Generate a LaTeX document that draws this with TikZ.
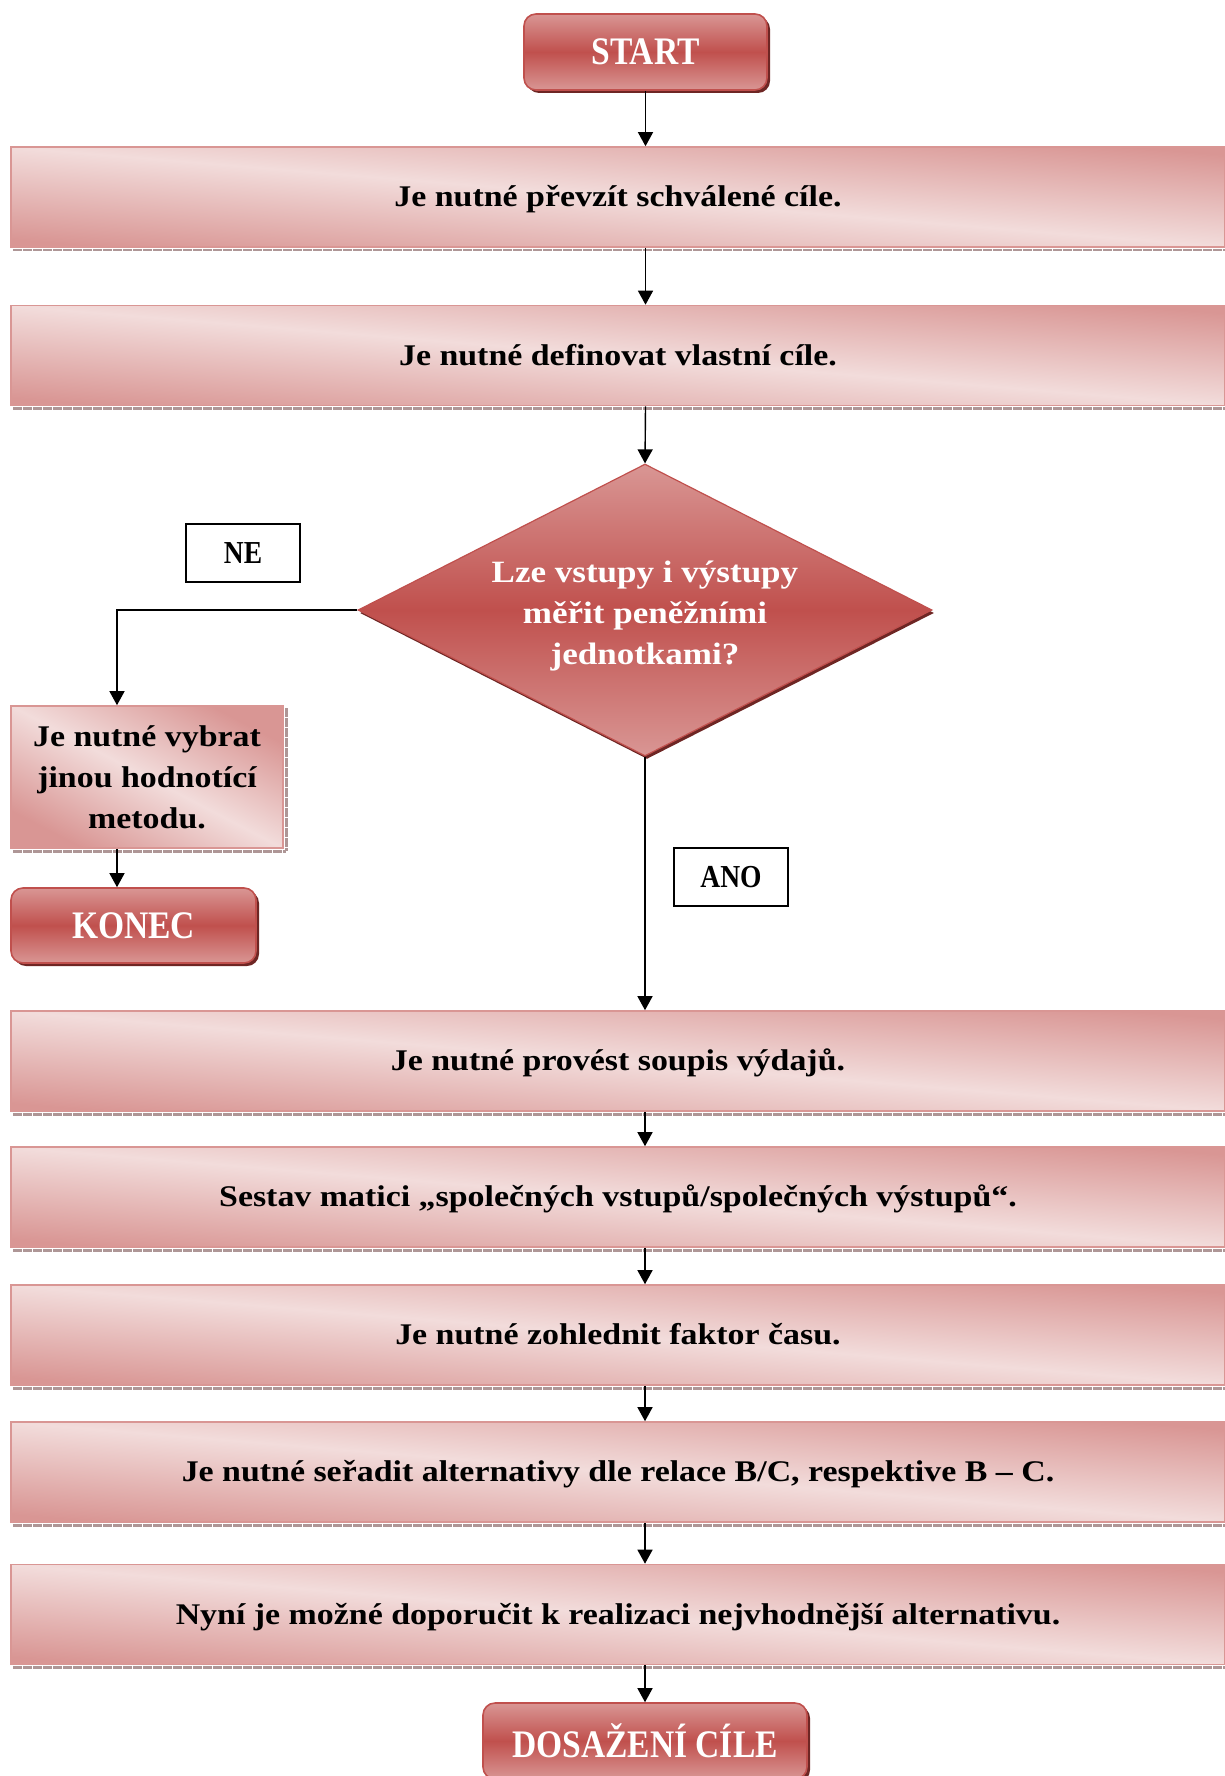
\documentclass[tikz,border=0pt]{standalone}
\usepackage{fontspec}
\setmainfont{Liberation Serif}[FakeStretch=1.13]
\newfontfamily\capsfont{Liberation Serif}[FakeStretch=0.86]
\usetikzlibrary{shapes.geometric,arrows.meta,shadows}
\definecolor{pinklight}{HTML}{F2DCDB}
\definecolor{pinkdark}{HTML}{D99694}
\definecolor{accentred}{HTML}{C0504D}
\definecolor{shadowred}{HTML}{6E2624}
\definecolor{stripgray}{HTML}{AE9696}
\begin{document}
\begin{tikzpicture}[x=0.5pt,y=-0.5pt,
  gradbox/.style={rectangle, draw=pinkdark, line width=0.8pt,
    left color=pinkdark, right color=pinkdark, middle color=pinklight,
    inner sep=0pt, align=center,
    font=\bfseries\fontsize{15}{20.5}\selectfont},
  stepbar/.style={gradbox, shading angle=-4.7,
    minimum width=607pt, minimum height=50pt,
    text height=13pt, text depth=3.3pt},
  sidebox/.style={gradbox, shading angle=-27.6,
    minimum width=136pt, minimum height=71pt},
  termbox/.style={rectangle, rounded corners=6pt, draw=accentred,
    line width=0.8pt, top color=pinkdark, bottom color=pinkdark,
    middle color=accentred, text=white, inner sep=0pt,
    font=\capsfont\bfseries\fontsize{19.5}{22}\selectfont,
    drop shadow={shadow xshift=1.5pt, shadow yshift=-1.5pt,
      fill=shadowred, opacity=1}},
  decision/.style={diamond, aspect=1.97, draw=accentred, line width=0.6pt,
    top color=pinkdark, bottom color=pinkdark, middle color=accentred,
    text=white, minimum width=287pt, minimum height=146pt, inner sep=0pt,
    align=center, font=\bfseries\fontsize{15.5}{20.5}\selectfont,
    drop shadow={shadow xshift=1pt, shadow yshift=-1.5pt,
      fill=shadowred, opacity=1}},
  answer/.style={rectangle, draw=black, line width=0.9pt, fill=white,
    minimum width=57pt, minimum height=29pt, inner sep=0pt,
    font=\capsfont\bfseries\fontsize{16}{18}\selectfont},
  arrowline/.style={line width=0.7pt, -{Triangle[width=7.5pt,length=7pt]}},
  shadowstrip/.style={draw=stripgray, line width=1.3pt,
    dash pattern=on 4.4pt off 0.6pt}
]
\useasboundingbox (0,0) rectangle (1225,1776);
\clip (0,0) rectangle (1225,1776);

% terminals
\node[termbox, minimum width=121.5pt, minimum height=38pt] (start) at (645.5,52) {START};
\node[termbox, minimum width=122.5pt, minimum height=37.5pt] (konec) at (133.5,925.5) {KONEC};
\node[termbox, minimum width=162pt, minimum height=38pt] (cil) at (645,1741) {DOSAŽENÍ CÍLE};

% process steps
\node[stepbar] (b1) at (618,197) {Je nutné převzít schválené cíle.};
\node[stepbar] (b2) at (618,355.5) {Je nutné definovat vlastní cíle.};
\node[stepbar] (b3) at (618,1061) {Je nutné provést soupis výdajů.};
\node[stepbar] (b4) at (618,1197) {Sestav matici „společných vstupů/společných výstupů“.};
\node[stepbar] (b5) at (618,1335) {Je nutné zohlednit faktor času.};
\node[stepbar] (b6) at (618,1472) {Je nutné seřadit alternativy dle relace B/C, respektive B – C.};
\node[stepbar] (b7) at (618,1614.5) {Nyní je možné doporučit k realizaci nejvhodnější alternativu.};
\node[sidebox] (alt) at (147,777) {Je nutné vybrat\\jinou hodnotící\\metodu.};

\foreach \n in {b1,b2,b3,b4,b5,b6,b7,alt}
  \draw[shadowstrip] ([xshift=1.5pt,yshift=-1.2pt]\n.south west) -- ([xshift=1.2pt,yshift=-1.2pt]\n.south east);
\draw[shadowstrip] ([xshift=1.2pt,yshift=-1.5pt]alt.north east) -- ([xshift=1.2pt,yshift=-1.2pt]alt.south east);

% decision
\node[decision] (dec) at (645,610)
  {\raisebox{-2.8pt}[\height][\depth]{\begin{tabular}{@{}c@{}}Lze vstupy i výstupy\\měřit peněžními\\jednotkami?\end{tabular}}};

% branch labels
\node[answer] (ne) at (243,553) {NE};
\node[answer] (ano) at (731,877) {ANO};

% connectors
\draw[arrowline] (start.south) -- (start.south |- b1.north);
\draw[arrowline] (start.south |- b1.south) -- (start.south |- b2.north);
\draw[arrowline] (start.south |- b2.south) -- (dec.north);
\draw[arrowline] (dec.west) -| ([xshift=-15pt]alt.north);
\draw[arrowline] ([xshift=-15pt]alt.south) -- ([xshift=-15pt]alt.south |- konec.north);
\draw[arrowline] (dec.south) -- (dec.south |- b3.north);
\draw[arrowline] (dec.south |- b3.south) -- (dec.south |- b4.north);
\draw[arrowline] (dec.south |- b4.south) -- (dec.south |- b5.north);
\draw[arrowline] (dec.south |- b5.south) -- (dec.south |- b6.north);
\draw[arrowline] (dec.south |- b6.south) -- (dec.south |- b7.north);
\draw[arrowline] (dec.south |- b7.south) -- (cil.north);
\end{tikzpicture}
\end{document}
